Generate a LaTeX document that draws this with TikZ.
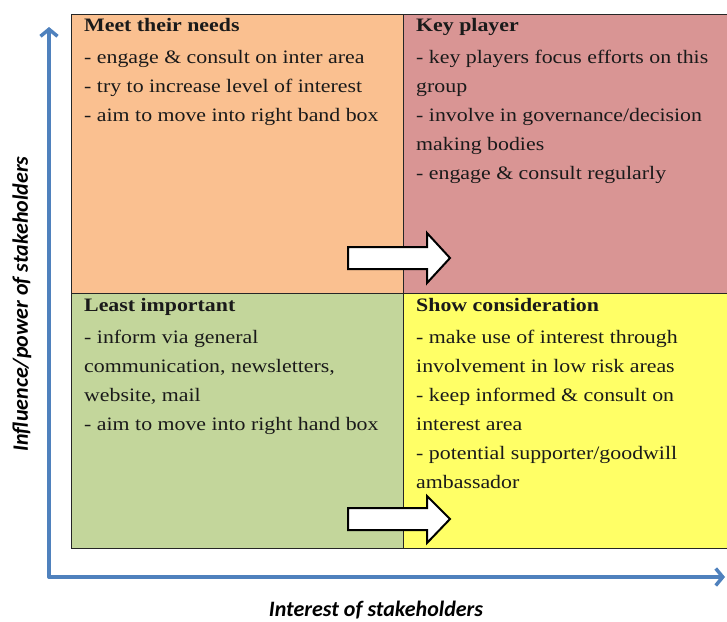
\documentclass[tikz,border=0pt]{standalone}
\usepackage{fontspec}
\setmainfont{Liberation Serif}[FakeStretch=1.15]
\newfontfamily\axisfont{Carlito}
\usetikzlibrary{arrows.meta}

\definecolor{needsfill}{HTML}{FAC090}
\definecolor{playerfill}{HTML}{D99594}
\definecolor{leastfill}{HTML}{C3D69B}
\definecolor{considerfill}{HTML}{FFFF66}
\definecolor{axisblue}{HTML}{4F81BD}
\definecolor{inkcol}{HTML}{1A1A1A}

\tikzset{
  cellbox/.style={draw=black!85, line width=1pt, inner sep=0pt, outer sep=0pt, anchor=north west},
  celltext/.style={anchor=north west, inner sep=0pt, align=left, text=inkcol,
    font=\fontsize{19}{29}\selectfont},
  axisline/.style={draw=axisblue, line width=3.5pt, line cap=round, line join=round,
    -{Straight Barb[length=7pt,width=17pt,line width=3.5pt]}},
  axislabel/.style={font=\axisfont\bfseries\itshape\fontsize{22}{24}\selectfont, text=black},
  movearrow/.style={draw=black, line width=2pt, fill=white, line join=miter}
}

\begin{document}
\begin{tikzpicture}[x=1pt, y=-1pt]
  \useasboundingbox (0,0) rectangle (727,621);

  % quadrant cells
  \node[cellbox, fill=needsfill, minimum width=332pt, minimum height=279pt] (needs) at (71,14) {};
  \node[cellbox, fill=playerfill, minimum width=340pt, minimum height=279pt] (player) at (403,14) {};
  \node[cellbox, fill=leastfill, minimum width=332pt, minimum height=255pt] (least) at (71,293) {};
  \node[cellbox, fill=considerfill, minimum width=340pt, minimum height=255pt] (consider) at (403,293) {};

  % quadrant texts
  \node[celltext] (needstext) at (84,18) {\textbf{Meet their needs}\\[3pt]
    - engage \& consult on inter area\\
    - try to increase level of interest\\
    - aim to move into right band box};
  \node[celltext] (playertext) at (416,18) {\textbf{Key player}\\[3pt]
    - key players focus efforts on this\\
    group\\
    - involve in governance/decision\\
    making bodies\\
    - engage \& consult regularly};
  \node[celltext] (leasttext) at (84,298) {\textbf{Least important}\\[3pt]
    - inform via general\\
    communication, newsletters,\\
    website, mail\\
    - aim to move into right hand box};
  \node[celltext] (considertext) at (416,298) {\textbf{Show consideration}\\[3pt]
    - make use of interest through\\
    involvement in low risk areas\\
    - keep informed \& consult on\\
    interest area\\
    - potential supporter/goodwill\\
    ambassador};

  % block arrows pointing to the right-hand boxes
  \draw[movearrow] (348,247) -- (427,247) -- (427,233) -- (450,258) -- (427,283)
    -- (427,269) -- (348,269) -- cycle;
  \draw[movearrow] (348,508) -- (427,508) -- (427,496) -- (450,519) -- (427,543)
    -- (427,530) -- (348,530) -- cycle;

  % axes
  \coordinate (origin) at (49,577);
  \coordinate (ytop) at (49,27);
  \coordinate (xend) at (725,577);
  \draw[axisline] (origin) -- (ytop);
  \draw[axisline] (origin) -- (xend);

  \node[axislabel, rotate=90] (ylabel) at (22,304) {Influence/power of stakeholders};
  \node[axislabel] (xlabel) at (376,610) {Interest of stakeholders};
\end{tikzpicture}
\end{document}
